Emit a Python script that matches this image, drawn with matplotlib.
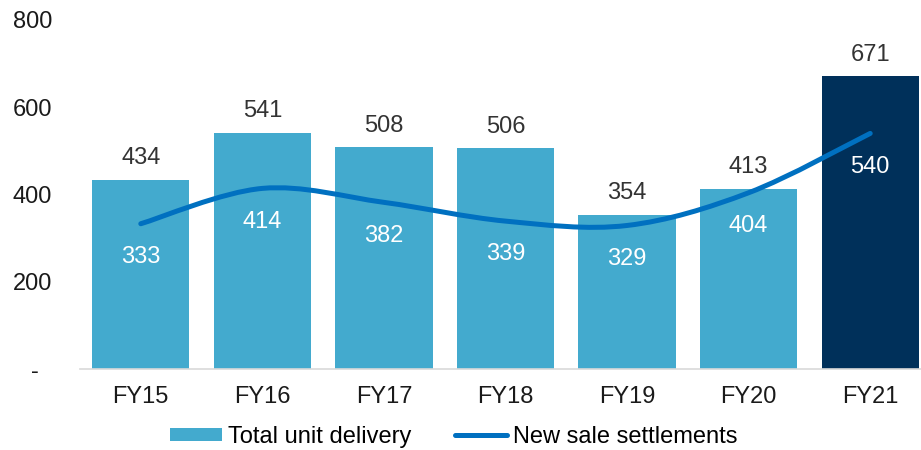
import numpy as np
import matplotlib.pyplot as plt
from matplotlib.path import Path
from matplotlib.patches import PathPatch
from matplotlib.lines import Line2D
from matplotlib.patches import Patch

plt.rcParams['font.family'] = ['Liberation Sans', 'DejaVu Sans']

years = ['FY15', 'FY16', 'FY17', 'FY18', 'FY19', 'FY20', 'FY21']
deliveries = [434, 541, 508, 506, 354, 413, 671]
settlements = [333, 414, 382, 339, 329, 404, 540]
yticks = [0, 200, 400, 600, 800]
ytick_labels = ['-  ', '200', '400', '600', '800']

BAR = '#43aace'
BAR_LAST = '#00305a'
LINE = '#0070c0'
TXT = '#333333'
FS = 17

fig = plt.figure(figsize=(9.21, 4.5), dpi=100)
ax = fig.add_axes([80 / 921, 1 - 369 / 450, (931 - 80) / 921, 349 / 450])

x = np.arange(len(years))
colors = [BAR] * (len(years) - 1) + [BAR_LAST]
ax.bar(x, deliveries, width=0.8, color=colors, zorder=2)

# smoothed line like Excel's "smoothed line" option (Catmull-Rom -> Bezier)
pts = np.column_stack([x, settlements]).astype(float)
verts = [pts[0]]
codes = [Path.MOVETO]
for i in range(len(pts) - 1):
    p0 = pts[i - 1] if i > 0 else pts[i]
    p1 = pts[i]
    p2 = pts[i + 1]
    p3 = pts[i + 2] if i + 2 < len(pts) else pts[i + 1]
    c1 = p1 + (p2 - p0) / 6
    c2 = p2 - (p3 - p1) / 6
    verts += [c1, c2, p2]
    codes += [Path.CURVE4] * 3
ax.add_patch(PathPatch(Path(verts, codes), fill=False, edgecolor=LINE,
                       lw=3.6, capstyle='round', zorder=3))

for xi, v in zip(x, deliveries):
    ax.annotate(str(v), (xi, v), xytext=(0, 15.5), textcoords='offset points',
                ha='center', va='center', fontsize=FS, color=TXT)
for xi, v in zip(x, settlements):
    ax.annotate(str(v), (xi, v), xytext=(0, -24), textcoords='offset points',
                ha='center', va='center', fontsize=FS, color='white', zorder=4)

ax.set_xlim(-0.5, 6.5)
ax.set_ylim(0, 800)
ax.set_xticks(x)
ax.set_xticklabels(years)
ax.set_yticks(yticks)
ax.set_yticklabels(ytick_labels)
ax.tick_params(axis='both', length=0, labelsize=FS, labelcolor='#1a1a1a')
ax.tick_params(axis='y', pad=20)
ax.tick_params(axis='x', pad=12)
for s in ['top', 'right', 'left']:
    ax.spines[s].set_visible(False)
ax.spines['bottom'].set_color('#d9d9d9')
ax.spines['bottom'].set_linewidth(1.2)

handles = [Patch(facecolor=BAR, label='Total unit delivery'),
           Line2D([0], [0], color=LINE, lw=3.6, solid_capstyle='round',
                  label='New sale settlements')]
fig.legend(handles=handles, loc='center', bbox_to_anchor=(454 / 921, 1 - 437 / 450),
           ncol=2, frameon=False, fontsize=FS, handlelength=2.2, handleheight=0.5,
           handletextpad=0.25, columnspacing=1.85, borderpad=0)

fig.savefig('out.png', dpi=100)
